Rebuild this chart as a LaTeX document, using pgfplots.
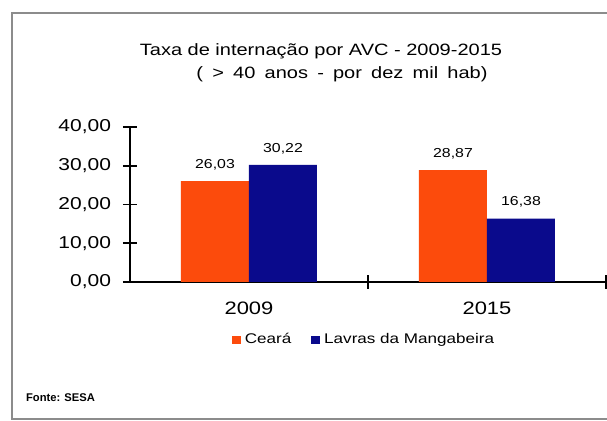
\documentclass[border=0pt]{standalone}
\usepackage{fontspec}
\setmainfont{Liberation Sans}
\newfontfamily\wide{Liberation Sans}[FakeStretch=1.22]
\usepackage{pgfplots}
\pgfplotsset{compat=1.18}
\definecolor{ceara}{RGB}{252,75,12}
\definecolor{lavras}{RGB}{10,10,140}
\definecolor{framec}{RGB}{140,140,140}
\begin{document}
\begin{tikzpicture}
\path[use as bounding box] (0,0) rectangle (303.5pt,210.5pt);
\clip (0,0) rectangle (303.5pt,210.5pt);
\fill[white] (0,0) rectangle (303.5pt,210.5pt);
\draw[framec, line width=0.6pt] (320pt,1pt) -- (6pt,1pt) -- (6pt,204pt) -- (320pt,204pt);
\node[font=\wide\fontsize{8.2}{10}\selectfont] at (160.5pt,185pt) {Taxa de internação por AVC - 2009-2015};
\node[font=\wide\fontsize{8.2}{10}\selectfont] at (171pt,173.5pt) {\spaceskip=4.6pt (\ > 40 anos - por dez mil hab)};
\node[anchor=west, font=\bfseries\fontsize{5.6}{7}\selectfont] at (9.5pt,11.5pt) {Fonte: SESA};
\begin{axis}[
  at={(65pt,69.5pt)}, anchor=south west,
  scale only axis, width=238pt, height=77.5pt,
  xmin=-0.5, xmax=1.5, ymin=0, ymax=40,
  axis x line*=bottom, axis y line*=left,
  axis line style={line width=1pt, black},
  ybar=0pt, bar width=34pt,
  xtick={0.5,1.5}, xticklabels={},
  extra x ticks={0,1}, extra x tick labels={2009,2015},
  extra x tick style={major tick length=0pt, tick label style={yshift=-6.5pt, font=\wide\fontsize{9}{10}\selectfont}},
  ytick={0,10,20,30,40},
  yticklabel style={xshift=-2.5pt},
  tick align=center, major tick length=7pt,
  tick style={black, line width=0.8pt},
  /pgf/number format/.cd, fixed, fixed zerofill, precision=2, use comma, assume math mode=true, /pgfplots/.cd,
  tick label style={font=\wide\fontsize{8.6}{10}\selectfont},
  nodes near coords,
  nodes near coords style={font=\wide\fontsize{6.5}{8}\selectfont, yshift=2pt},
  legend style={draw=none, at={(0.494,-0.374)}, anchor=center, legend columns=2,
    font=\wide\fontsize{7}{8}\selectfont,
    /tikz/every even column/.append style={column sep=8pt}},
  legend image code/.code={\fill[#1] (0pt,-2.2pt) rectangle (4.4pt,2.2pt);},
]
\addplot[fill=ceara, draw=none] coordinates {(0,26.03) (1,28.87)};
\addplot[fill=lavras, draw=none] coordinates {(0,30.22) (1,16.38)};
\legend{Ceará, Lavras da Mangabeira}
\end{axis}
\end{tikzpicture}
\end{document}
